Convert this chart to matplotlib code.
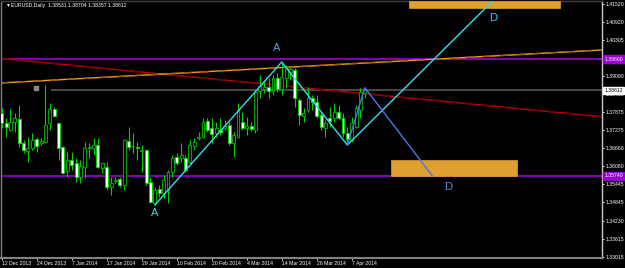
import numpy as np
import matplotlib.pyplot as plt
from matplotlib.patches import Rectangle
from matplotlib.transforms import blended_transform_factory

plt.rcParams['font.family'] = ['Liberation Sans', 'DejaVu Sans']

##----------------------- data: EURUSD daily -----------------------##
opens = [1.37851, 1.37515, 1.37279, 1.37549, 1.37650, 1.36842, 1.36572, 1.36673, 1.36976, 1.36842,
         1.36875, 1.37515, 1.37986, 1.37515, 1.36707, 1.35899, 1.36269, 1.36168, 1.35697, 1.36034,
         1.36673, 1.36673, 1.36774, 1.36000, 1.36034, 1.35361, 1.35563, 1.35630, 1.35428, 1.36909,
         1.36740, 1.36707, 1.36589, 1.36606, 1.35529, 1.34822, 1.35293, 1.35159, 1.35260, 1.35866,
         1.36370, 1.36337, 1.36337, 1.36202, 1.36740, 1.37010, 1.37044, 1.37582, 1.37347, 1.37178,
         1.37279, 1.37347, 1.37448, 1.36842, 1.37044, 1.37549, 1.37347, 1.37414, 1.37279, 1.38592,
         1.38659, 1.38727, 1.38592, 1.39030, 1.38659, 1.39030, 1.39231, 1.39299, 1.38289, 1.37750,
         1.37952, 1.38356, 1.38222, 1.37784, 1.37347, 1.37683, 1.37683, 1.37885, 1.37683, 1.37178,
         1.36943, 1.37380, 1.37952, 1.38531]
highs = [1.38020, 1.37683, 1.37986, 1.37851, 1.38121, 1.36943, 1.37044, 1.37178, 1.37044, 1.37010,
         1.38794, 1.38188, 1.38053, 1.37549, 1.36740, 1.36539, 1.36539, 1.36337, 1.36269, 1.36875,
         1.36842, 1.37010, 1.37010, 1.36202, 1.36202, 1.35697, 1.35697, 1.35697, 1.36976, 1.37380,
         1.37178, 1.36875, 1.36774, 1.36640, 1.35697, 1.35361, 1.35428, 1.35765, 1.35933, 1.36438,
         1.36505, 1.36842, 1.36438, 1.36943, 1.37010, 1.37212, 1.37683, 1.37683, 1.37683, 1.37549,
         1.37683, 1.37616, 1.37549, 1.37212, 1.38188, 1.37885, 1.37717, 1.37549, 1.38626, 1.39130,
         1.38962, 1.39030, 1.39130, 1.39198, 1.39568, 1.39467, 1.39400, 1.39366, 1.38356, 1.38020,
         1.38727, 1.38457, 1.38457, 1.37851, 1.37616, 1.38053, 1.38188, 1.38121, 1.37851, 1.37380,
         1.37717, 1.38121, 1.38693, 1.38704]
lows = [1.37347, 1.37044, 1.37246, 1.37212, 1.36707, 1.36505, 1.36202, 1.36606, 1.36539, 1.36774,
        1.36842, 1.37279, 1.37717, 1.36269, 1.35798, 1.35697, 1.35933, 1.35529, 1.35495, 1.35664,
        1.36337, 1.36438, 1.36000, 1.35832, 1.35260, 1.35091, 1.35495, 1.35361, 1.35260, 1.36606,
        1.36505, 1.36269, 1.35866, 1.35428, 1.34822, 1.34755, 1.35024, 1.34990, 1.34822, 1.35697,
        1.36101, 1.36202, 1.35866, 1.36101, 1.36606, 1.36943, 1.37010, 1.37212, 1.36842, 1.37044,
        1.37111, 1.37279, 1.36774, 1.36370, 1.37010, 1.37279, 1.37111, 1.37246, 1.37178, 1.38356,
        1.38525, 1.38356, 1.38457, 1.38558, 1.38457, 1.38693, 1.38962, 1.38053, 1.37448, 1.37549,
        1.37885, 1.37952, 1.37683, 1.37279, 1.37044, 1.37380, 1.37549, 1.37616, 1.37044, 1.36774,
        1.36875, 1.37347, 1.37683, 1.38357]
closes = [1.37515, 1.37380, 1.37549, 1.37683, 1.36842, 1.36606, 1.36673, 1.36943, 1.36740, 1.36909,
          1.37448, 1.37986, 1.37750, 1.36673, 1.35832, 1.36269, 1.36101, 1.35697, 1.36067, 1.36673,
          1.36707, 1.36774, 1.36034, 1.36168, 1.35361, 1.35495, 1.35596, 1.35428, 1.36943, 1.36707,
          1.36724, 1.36673, 1.36606, 1.35495, 1.34856, 1.35260, 1.35159, 1.35596, 1.35866, 1.36337,
          1.36168, 1.36438, 1.35933, 1.36774, 1.36875, 1.37044, 1.37549, 1.37279, 1.37145, 1.37347,
          1.37212, 1.37414, 1.36842, 1.37111, 1.37952, 1.37347, 1.37414, 1.37313, 1.38558, 1.38760,
          1.38727, 1.38592, 1.39030, 1.38659, 1.39063, 1.39366, 1.39332, 1.38356, 1.37784, 1.37851,
          1.38356, 1.38222, 1.37750, 1.37380, 1.37515, 1.37582, 1.37885, 1.37683, 1.37178, 1.36976,
          1.37515, 1.38020, 1.38558, 1.38612]

date_ticks = [0, 8, 16, 24, 32, 40, 48, 56, 64, 72, 80]
date_labels = ['12 Dec 2013', '24 Dec 2013', '7 Jan 2014', '17 Jan 2014', '29 Jan 2014',
               '10 Feb 2014', '20 Feb 2014', '4 Mar 2014', '14 Mar 2014', '26 Mar 2014', '7 Apr 2014']
price_ticks = [1.41520, 1.40920, 1.40305, 1.39695, 1.39090, 1.38480, 1.37875, 1.37275,
               1.36660, 1.36060, 1.35445, 1.34845, 1.34230, 1.33615, 1.33015]

# objects drawn on the chart
level_top = 1.39660
level_low = 1.35740
bid = 1.38612
bid_line_start = 11.5
red_line = [(3.5, 1.39635), (102.5, 1.38221)]
orange_line = [(-0.4, 1.38861), (137.2, 1.39972)]
abcd_x = [35, 64, 79, 112]
abcd_y = [1.34755, 1.39568, 1.36774, 1.41590]
abcd2_x = [79, 83, 98.4]
abcd2_y = [1.36774, 1.38704, 1.35740]
box_top = (93.1, 127.6, 1.41385, 1.41621)
box_low = (89.0, 117.8, 1.35731, 1.36269)
icon = (7.8, 1.38676)

##----------------------- draw -----------------------##
fig = plt.figure(figsize=(6.25, 2.68), dpi=100, facecolor='black')
ax = fig.add_axes([0.5 / 625, 10 / 268, 601.5 / 625, 257 / 268])
ax.set_facecolor('black')
ax.set_xlim(-0.27, 137.2)
ax.set_ylim(1.32971, 1.41621)

n = len(opens)
x = np.arange(n)
o = np.array(opens); c = np.array(closes)
up = c >= o

ax.vlines(x, lows, highs, color='#00d000', lw=0.8, zorder=3)
ax.bar(x[up], (c - o)[up], bottom=o[up], width=0.66, color='black',
       edgecolor='#00a000', lw=0.75, zorder=4)
ax.bar(x[~up], (o - c)[~up], bottom=c[~up], width=0.66, color='white',
       edgecolor='#00d000', lw=0.75, zorder=4)

# horizontal levels
ax.axhline(level_top, color='#9a00d0', lw=1.2, zorder=2)
ax.axhline(level_low, color='#9a00d0', lw=1.2, zorder=2)
ax.plot([bid_line_start, 140], [bid, bid], color='#4a4a4a', lw=1.4, zorder=2)

# trend lines
ax.axline(red_line[0], red_line[1], color='#c00000', lw=1.0, zorder=2)
ax.axline(red_line[0], red_line[1], color='#700000', lw=1.0, dashes=(6, 6), zorder=2)
ax.axline(orange_line[0], orange_line[1], color='#f0a000', lw=1.0, zorder=2)
ax.axline(orange_line[0], orange_line[1], color='#a05a10', lw=1.0, dashes=(6, 6), zorder=2)

# boxes
for b in (box_top, box_low):
    ax.add_patch(Rectangle((b[0], b[2]), b[1] - b[0], b[3] - b[2], facecolor='#e0a030',
                           edgecolor='#e0a030', lw=0.5, zorder=5))

# harmonic pattern
ax.plot(abcd_x, abcd_y, color='#30e0f0', lw=1.0, zorder=6)
ax.plot(abcd2_x, abcd2_y, color='#4a78e8', lw=1.0, zorder=6)
ax.text(35, 1.34485, 'A', color='#40d8d8', fontsize=8, ha='center', va='center', zorder=7)
ax.text(62.9, 1.40039, 'A', color='#5b9ad8', fontsize=8, ha='center', va='center', zorder=7)
ax.text(112.3, 1.41049, 'D', color='#30d8e8', fontsize=8, ha='center', va='center', zorder=7)
ax.text(102.0, 1.35361, 'D', color='#5b8ad8', fontsize=8, ha='center', va='center', zorder=7)
ax.plot(icon[0], icon[1], marker='s', ms=3, color='#8a8a8a', zorder=7)

# axes look
for s in ['top', 'left', 'bottom', 'right']:
    ax.spines[s].set_color('#808080')
    ax.spines[s].set_linewidth(1.0)
ax.spines['top'].set_color('#404040')
ax.spines['bottom'].set_linewidth(1.5)
ax.spines['right'].set_color('#c8c8c8')

ax.yaxis.tick_right()
ax.set_yticks(price_ticks)
ax.set_yticklabels(['%.5f' % p for p in price_ticks])
ax.tick_params(axis='y', colors='white', labelsize=3.7, length=1.5, width=0.6, pad=1)
ax.set_xticks(date_ticks)
ax.set_xticklabels(date_labels, ha='left')
ax.tick_params(axis='x', colors='white', labelsize=3.7, length=1.5, width=0.6, pad=1)

# highlighted price labels
tr = blended_transform_factory(ax.transAxes, ax.transData)
for lvl, fc, tc in [(level_top, '#9a00d0', 'white'), (level_low, '#9a00d0', 'white'), (bid, 'white', 'black')]:
    ax.text(1.004, lvl, '%.5f' % lvl, transform=tr, fontsize=3.7, color=tc,
            va='center', ha='left', zorder=9, clip_on=False,
            bbox=dict(boxstyle='square,pad=0.25', fc=fc, ec=fc))

# title
fig.text(7 / 625, 1 - 5 / 268, '\u25bc', color='white', fontsize=3.5, ha='center', va='center')
fig.text(11 / 625, 1 - 5 / 268, 'EURUSD,Daily  %.5f %.5f %.5f %.5f' % (opens[-1], highs[-1], lows[-1], closes[-1]),
         color='white', fontsize=3.7, ha='left', va='center')

plt.savefig('out.png', dpi=100, facecolor='black')
print('done')
